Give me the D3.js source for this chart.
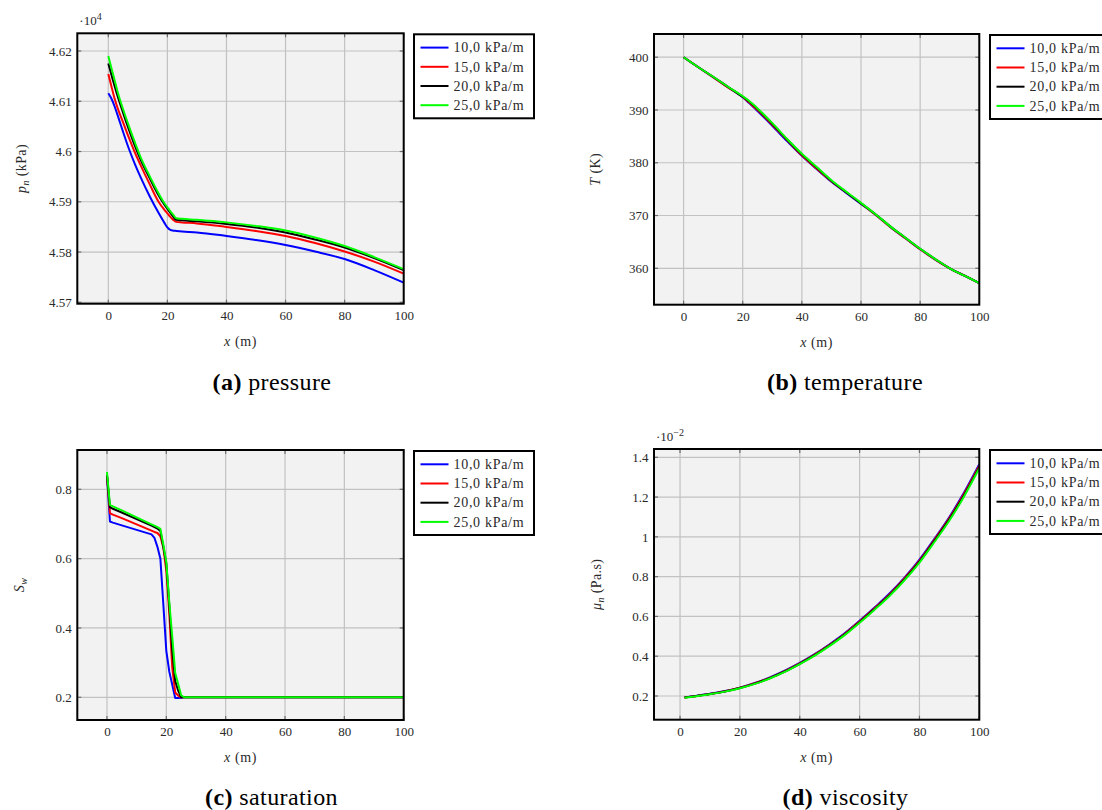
<!DOCTYPE html>
<html>
<head>
<meta charset="utf-8">
<script src="https://cdn.jsdelivr.net/npm/d3@7"></script>
<style>
  html, body { margin: 0; padding: 0; background: #fff; }
  svg { display: block; }
  text { font-family: "Liberation Serif", "DejaVu Serif", serif; fill: #2a2a2a; }
</style>
</head>
<body>
<svg id="fig" width="1102" height="810"></svg>
<script>
// ---- shared ----
const seriesNames = ["10,0 kPa/m", "15,0 kPa/m", "20,0 kPa/m", "25,0 kPa/m"];
const seriesColors = ["#0000ff", "#ff0000", "#000000", "#00ff00"];
const xTicks = [0, 20, 40, 60, 80, 100];

// ---- (a) pressure, kPa ----
const pressureX = [0, 1, 2, 3, 5, 7, 9, 11, 14, 17, 19, 20, 21, 22, 23, 25, 30, 40, 50, 60, 70, 80, 90, 100];
const pressure10 = [46116, 46106, 46092, 46075, 46039, 46005, 45975, 45948, 45911, 45878, 45858, 45849, 45844, 45842.5, 45842, 45841, 45839, 45832, 45824, 45814, 45801, 45786, 45764, 45739];
const pressure15 = [46154, 46131, 46108, 46089, 46058, 46027, 45998, 45972, 45935, 45900, 45884, 45877, 45870, 45864, 45860, 45859, 45857, 45850, 45842, 45832, 45818, 45801, 45781, 45757];
const pressure20 = [46175, 46154, 46133, 46113, 46077, 46043, 46011, 45983, 45947, 45913, 45894, 45886, 45878, 45870, 45864, 45863, 45861, 45856, 45849, 45839, 45825, 45809, 45788, 45764];
const pressure25 = [46190, 46167, 46145, 46122, 46084, 46050, 46018, 45988, 45951, 45917, 45897, 45889, 45881, 45874, 45867, 45866, 45864, 45859, 45852, 45843, 45829, 45812, 45790, 45766];
const pressureTicks = [45700, 45800, 45900, 46000, 46100, 46200];

// ---- (b) temperature, K ----
const temperatureX = [0, 5, 10, 15, 20, 22, 25, 30, 35, 40, 45, 50, 55, 60, 65, 70, 75, 80, 85, 90, 95, 100];
const temperature10 = [400.0, 398.1, 396.2, 394.3, 392.4, 391.4, 389.8, 387.0, 384.1, 381.3, 378.8, 376.4, 374.3, 372.2, 370.1, 367.8, 365.7, 363.6, 361.7, 360.0, 358.6, 357.2];
const temperature15 = [400.0, 398.1, 396.2, 394.3, 392.5, 391.5, 390.0, 387.2, 384.3, 381.4, 378.9, 376.5, 374.4, 372.3, 370.1, 367.8, 365.7, 363.6, 361.7, 360.0, 358.6, 357.2];
const temperature20 = [400.0, 398.1, 396.3, 394.4, 392.5, 391.7, 390.2, 387.4, 384.4, 381.6, 379.1, 376.6, 374.4, 372.3, 370.2, 367.9, 365.8, 363.7, 361.8, 360.0, 358.6, 357.2];
const temperature25 = [400.0, 398.1, 396.3, 394.4, 392.6, 391.8, 390.3, 387.5, 384.5, 381.7, 379.2, 376.7, 374.5, 372.4, 370.2, 367.9, 365.8, 363.7, 361.8, 360.0, 358.6, 357.2];
const temperatureTicks = [360, 370, 380, 390, 400];

// ---- (c) saturation, - ----
const saturationX = [0, 1, 2, 5, 10, 15, 16, 17, 18, 19, 20, 21, 22, 23, 24, 25, 26, 30, 40, 50, 60, 70, 80, 90, 100];
const saturation10 = [0.840, 0.707, 0.704, 0.696, 0.683, 0.670, 0.660, 0.634, 0.600, 0.467, 0.334, 0.274, 0.236, 0.198, 0.198, 0.199, 0.200, 0.200, 0.200, 0.200, 0.200, 0.200, 0.200, 0.200, 0.200];
const saturation15 = [0.840, 0.731, 0.727, 0.717, 0.699, 0.681, 0.677, 0.674, 0.664, 0.632, 0.565, 0.442, 0.285, 0.214, 0.205, 0.200, 0.200, 0.200, 0.200, 0.200, 0.200, 0.200, 0.200, 0.200, 0.200];
const saturation20 = [0.840, 0.748, 0.744, 0.733, 0.714, 0.695, 0.691, 0.687, 0.680, 0.633, 0.586, 0.465, 0.335, 0.247, 0.219, 0.200, 0.200, 0.200, 0.200, 0.200, 0.200, 0.200, 0.200, 0.200, 0.200];
const saturation25 = [0.850, 0.755, 0.751, 0.739, 0.719, 0.699, 0.695, 0.691, 0.686, 0.640, 0.590, 0.475, 0.375, 0.270, 0.238, 0.206, 0.200, 0.200, 0.200, 0.200, 0.200, 0.200, 0.200, 0.200, 0.200];
const saturationTicks = [0.2, 0.4, 0.6, 0.8];

// ---- (d) viscosity, Pa.s ----
const viscosityX = [1.5, 5, 10, 15, 20, 25, 30, 35, 40, 45, 50, 55, 60, 65, 70, 75, 80, 85, 90, 95, 100];
const viscosity10 = [0.00193, 0.00200, 0.00211, 0.00225, 0.00242, 0.00265, 0.00293, 0.00327, 0.00366, 0.00410, 0.00460, 0.00515, 0.00578, 0.00645, 0.00715, 0.00795, 0.00885, 0.00990, 0.01100, 0.01225, 0.01365];
const viscosity15 = [0.00192, 0.00199, 0.00210, 0.00224, 0.00241, 0.00264, 0.00291, 0.00325, 0.00364, 0.00408, 0.00457, 0.00512, 0.00575, 0.00641, 0.00711, 0.00791, 0.00880, 0.00985, 0.01094, 0.01219, 0.01358];
const viscosity20 = [0.00192, 0.00199, 0.00210, 0.00223, 0.00240, 0.00262, 0.00290, 0.00323, 0.00362, 0.00405, 0.00455, 0.00509, 0.00571, 0.00637, 0.00707, 0.00786, 0.00875, 0.00980, 0.01088, 0.01212, 0.01351];
const viscosity25 = [0.00191, 0.00198, 0.00209, 0.00222, 0.00239, 0.00261, 0.00288, 0.00321, 0.00360, 0.00403, 0.00452, 0.00506, 0.00568, 0.00634, 0.00703, 0.00782, 0.00871, 0.00974, 0.01082, 0.01206, 0.01345];
const viscosityTicks = [0.002, 0.004, 0.006, 0.008, 0.010, 0.012, 0.014];

const SERIF = '"Liberation Serif", "DejaVu Serif", serif';
const svg = d3.select("#fig");
const clean = v => String(+v.toFixed(6));

function drawPanel(cfg) {
  const g = svg.append("g");
  const x = d3.scaleLinear().domain(cfg.xDomain).range([cfg.left, cfg.right]);
  const y = d3.scaleLinear().domain(cfg.yDomain).range([cfg.bottom, cfg.top]);
  const w = cfg.right - cfg.left, h = cfg.bottom - cfg.top;

  // plot background
  g.append("rect").attr("x", cfg.left).attr("y", cfg.top).attr("width", w).attr("height", h)
    .attr("fill", "#f2f2f2");

  // grid
  const grid = g.append("g").attr("stroke", "#c2c2c2").attr("stroke-width", 1.2);
  grid.selectAll(".gx").data(xTicks).join("line")
    .attr("x1", d => x(d)).attr("x2", d => x(d)).attr("y1", cfg.top).attr("y2", cfg.bottom);
  grid.selectAll(".gy").data(cfg.yTicks).join("line")
    .attr("y1", d => y(d)).attr("y2", d => y(d)).attr("x1", cfg.left).attr("x2", cfg.right);

  // inward tick marks on every side of the box
  const tk = g.append("g").attr("stroke", "#6e6e6e").attr("stroke-width", 1.2);
  xTicks.forEach(d => {
    tk.append("line").attr("x1", x(d)).attr("x2", x(d)).attr("y1", cfg.bottom).attr("y2", cfg.bottom - 4);
    tk.append("line").attr("x1", x(d)).attr("x2", x(d)).attr("y1", cfg.top).attr("y2", cfg.top + 4);
  });
  cfg.yTicks.forEach(d => {
    tk.append("line").attr("y1", y(d)).attr("y2", y(d)).attr("x1", cfg.left).attr("x2", cfg.left + 4);
    tk.append("line").attr("y1", y(d)).attr("y2", y(d)).attr("x1", cfg.right).attr("x2", cfg.right - 4);
  });

  // series
  const line = d3.line().x(d => x(d[0])).y(d => y(d[1])).curve(cfg.curve);
  cfg.series.forEach((vals, i) => {
    g.append("path")
      .datum(cfg.xs.map((xv, k) => [xv, vals[k]]))
      .attr("fill", "none")
      .attr("stroke", seriesColors[i])
      .attr("stroke-width", 2)
      .attr("stroke-linejoin", "round")
      .attr("d", line);
  });

  // box
  g.append("rect").attr("x", cfg.left).attr("y", cfg.top).attr("width", w).attr("height", h)
    .attr("fill", "none").attr("stroke", "#000").attr("stroke-width", 2);

  // tick labels via d3 axes
  const ax = g.append("g").attr("transform", `translate(0,${cfg.bottom})`)
    .call(d3.axisBottom(x).tickValues(xTicks).tickSize(0).tickPadding(7).tickFormat(d => String(d)));
  const ay = g.append("g").attr("transform", `translate(${cfg.left},0)`)
    .call(d3.axisLeft(y).tickValues(cfg.yTicks).tickSize(0).tickPadding(5.5).tickFormat(cfg.yFormat));
  [ax, ay].forEach(a => {
    a.attr("font-family", null).attr("font-size", null);
    a.select(".domain").remove();
    a.selectAll("text").style("font-family", SERIF).style("font-size", "13px").style("fill", "#2a2a2a");
  });

  // x label
  const xl = g.append("text").attr("x", (cfg.left + cfg.right) / 2).attr("y", cfg.bottom + 42)
    .attr("text-anchor", "middle").style("font-size", "14px").attr("letter-spacing", 0.6);
  xl.append("tspan").attr("font-style", "italic").text("x");
  xl.append("tspan").text(" (m)");

  // y label
  const yl = g.append("text")
    .attr("transform", `translate(${cfg.yLabelX},${(cfg.top + cfg.bottom) / 2}) rotate(-90)`)
    .attr("text-anchor", "middle").attr("dy", "0.35em").style("font-size", "14px").attr("letter-spacing", 0.4);
  yl.append("tspan").attr("font-style", "italic").text(cfg.yLabel[0]);
  if (cfg.yLabel[1]) {
    yl.append("tspan").attr("font-style", "italic").style("font-size", "10px").attr("dy", 3).text(cfg.yLabel[1]);
  }
  if (cfg.yLabel[2]) {
    yl.append("tspan").attr("dy", cfg.yLabel[1] ? -3 : 0).text(cfg.yLabel[2]);
  }

  // scale multiplier above the box
  if (cfg.multiplier) {
    const m = g.append("text").attr("x", cfg.left + 2).attr("y", cfg.top - 8).style("font-size", "13px");
    m.append("tspan").text("·10");
    m.append("tspan").style("font-size", "10px").attr("dy", -5).text(cfg.multiplier);
  }

  // legend
  const lg = g.append("g").attr("transform", `translate(${cfg.legendX},${cfg.top + 1})`);
  lg.append("rect").attr("width", 120).attr("height", 84).attr("fill", "#fff")
    .attr("stroke", "#000").attr("stroke-width", 2);
  seriesNames.forEach((name, i) => {
    const ry = 13.3 + i * 19.2;
    lg.append("line").attr("x1", 6.5).attr("x2", 34.5).attr("y1", ry).attr("y2", ry)
      .attr("stroke", seriesColors[i]).attr("stroke-width", 2);
    lg.append("text").attr("x", 39.5).attr("y", ry).attr("dy", "0.34em")
      .style("font-size", "14px").attr("letter-spacing", 0.7).text(name);
  });

  // caption
  const cap = svg.append("text").attr("x", cfg.captionX).attr("y", cfg.captionY)
    .attr("text-anchor", "middle").style("font-size", "24px").attr("letter-spacing", 0.4)
    .style("fill", "#000");
  cap.append("tspan").attr("font-weight", "bold").text(cfg.caption[0]);
  cap.append("tspan").text(" " + cfg.caption[1]);
}

drawPanel({
  left: 77.3, right: 403.7, top: 33.3, bottom: 303.7,
  xDomain: [-10.5, 100], yDomain: [45697.2, 46235.2],
  xs: pressureX, series: [pressure10, pressure15, pressure20, pressure25],
  yTicks: pressureTicks, yFormat: d => clean(d / 1e4),
  curve: d3.curveMonotoneX,
  yLabel: ["p", "n", " (kPa)"], yLabelX: 21.5, multiplier: "4",
  legendX: 414, caption: ["(a)", "pressure"], captionX: 272, captionY: 390
});

drawPanel({
  left: 654, right: 979.3, top: 34, bottom: 304.7,
  xDomain: [-10, 100], yDomain: [353.1, 404.4],
  xs: temperatureX, series: [temperature10, temperature15, temperature20, temperature25],
  yTicks: temperatureTicks, yFormat: d => String(d),
  curve: d3.curveMonotoneX,
  yLabel: ["T", null, " (K)"], yLabelX: 595,
  legendX: 990, caption: ["(b)", "temperature"], captionX: 845, captionY: 390
});

drawPanel({
  left: 77.3, right: 403.7, top: 450, bottom: 720,
  xDomain: [-10, 100], yDomain: [0.1345, 0.9134],
  xs: saturationX, series: [saturation10, saturation15, saturation20, saturation25],
  yTicks: saturationTicks, yFormat: d => clean(d),
  curve: d3.curveLinear,
  yLabel: ["S", "w", null], yLabelX: 19.5,
  legendX: 414, caption: ["(c)", "saturation"], captionX: 271.5, captionY: 805
});

drawPanel({
  left: 654, right: 979.3, top: 449, bottom: 719.7,
  xDomain: [-8.7, 100], yDomain: [0.000808, 0.014417],
  xs: viscosityX, series: [viscosity10, viscosity15, viscosity20, viscosity25],
  yTicks: viscosityTicks, yFormat: d => clean(d * 100),
  curve: d3.curveMonotoneX,
  yLabel: ["μ", "n", " (Pa.s)"], yLabelX: 596, multiplier: "−2",
  legendX: 990, caption: ["(d)", "viscosity"], captionX: 845.5, captionY: 805
});
</script>
</body>
</html>
